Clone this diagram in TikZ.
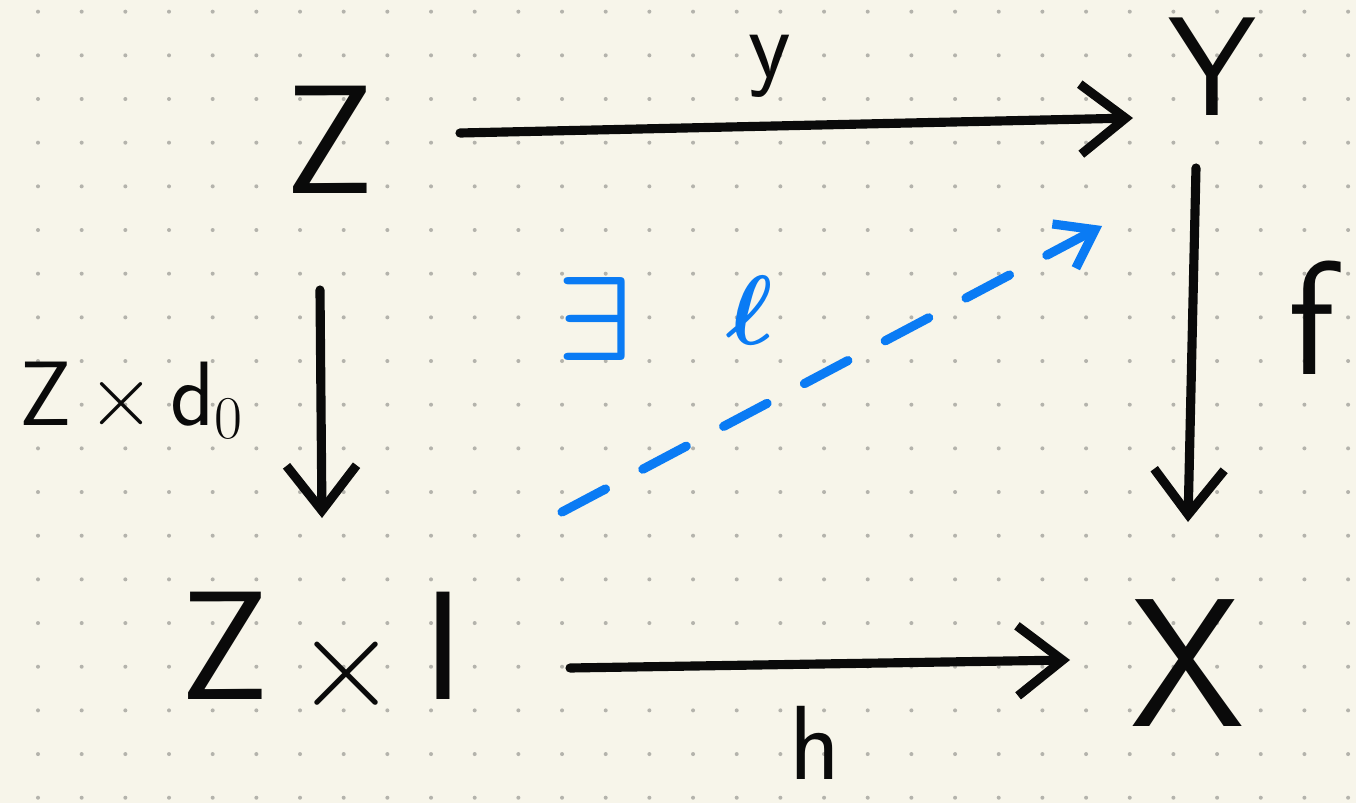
\documentclass[tikz,border=0pt]{standalone}
\usetikzlibrary{arrows.meta}
\definecolor{paper}{HTML}{F7F5EA}
\definecolor{dotc}{HTML}{B4B3AC}
\definecolor{pen}{HTML}{0A0A0A}
\definecolor{blu}{HTML}{0A7BF4}
\begin{document}
\begin{tikzpicture}[x=0.01cm,y=-0.01cm,
  obj/.style={inner sep=0pt, text=pen, font=\sffamily\fontsize{44}{44}\selectfont},
  lbl/.style={inner sep=0pt, text=pen, font=\sffamily\fontsize{26}{26}\selectfont},
  arr/.style={draw=pen, line width=2.6pt, line cap=round,
    -{Straight Barb[length=4.5mm,width=7mm,line width=2.6pt]}},
  darr/.style={draw=blu, line width=2.6pt, line cap=round, dash pattern=on 14pt off 12pt,
    -{Straight Barb[length=3.5mm,width=5mm,line width=2.6pt]}}]
\fill[paper] (0,0) rectangle (1356,803);
\useasboundingbox (0,0) rectangle (1356,803);
\foreach \i in {0,...,30}{
  \foreach \j in {0,...,18}{
    \fill[dotc] ({38+43.67*\i},{11.67+43.67*\j}) circle (0.02cm);
  }
}
% objects
\node[obj] (Z) at (330,140) {Z};
\node[obj, font=\sffamily\fontsize{40}{40}\selectfont] (Y) at (1212,67) {Y};
\node[obj] (ZI) at (322,655) {Z\,\raisebox{-2pt}{\scalebox{1.5}{$\times$}}\,I};
\node[obj, font=\sffamily\fontsize{52}{52}\selectfont] (X) at (1188,663) {X};
% arrows
\draw[arr] ([shift={(130,-7)}]Z.center) -- ([shift={(-79,51)}]Y.center);
\draw[arr] ([shift={(-16,101)}]Y.center) -- ([shift={(0,-141)}]X.center);
\draw[arr] ([shift={(-10,150)}]Z.center) -- ([shift={(0,-137)}]ZI.center);
\draw[arr] ([shift={(248,13)}]ZI.center) -- ([shift={(-118,-3)}]X.center);
\draw[darr] ([shift={(240,-143)}]ZI.center) -- ([shift={(-110,159)}]Y.center);
% labels
\node[lbl, font=\sffamily\fontsize{28}{28}\selectfont] (ly) at (770,66) {y};
\node[lbl, font=\sffamily\fontsize{46}{46}\selectfont] (lf) at (1312,318) {f};
\node[lbl, font=\sffamily\fontsize{30}{30}\selectfont] (lh) at (815,743) {h};
\node[lbl] (lzd) at (132,400) {Z\,$\times$\,d$_0$};
\node[inner sep=0pt, text=blu] (le) at (595,319) {\scalebox{3.4}{\boldmath$\exists$}};
\node[inner sep=0pt, text=blu] (ll) at (750,310) {\scalebox{2.8}{\boldmath$\ell$}};
\end{tikzpicture}
\end{document}
